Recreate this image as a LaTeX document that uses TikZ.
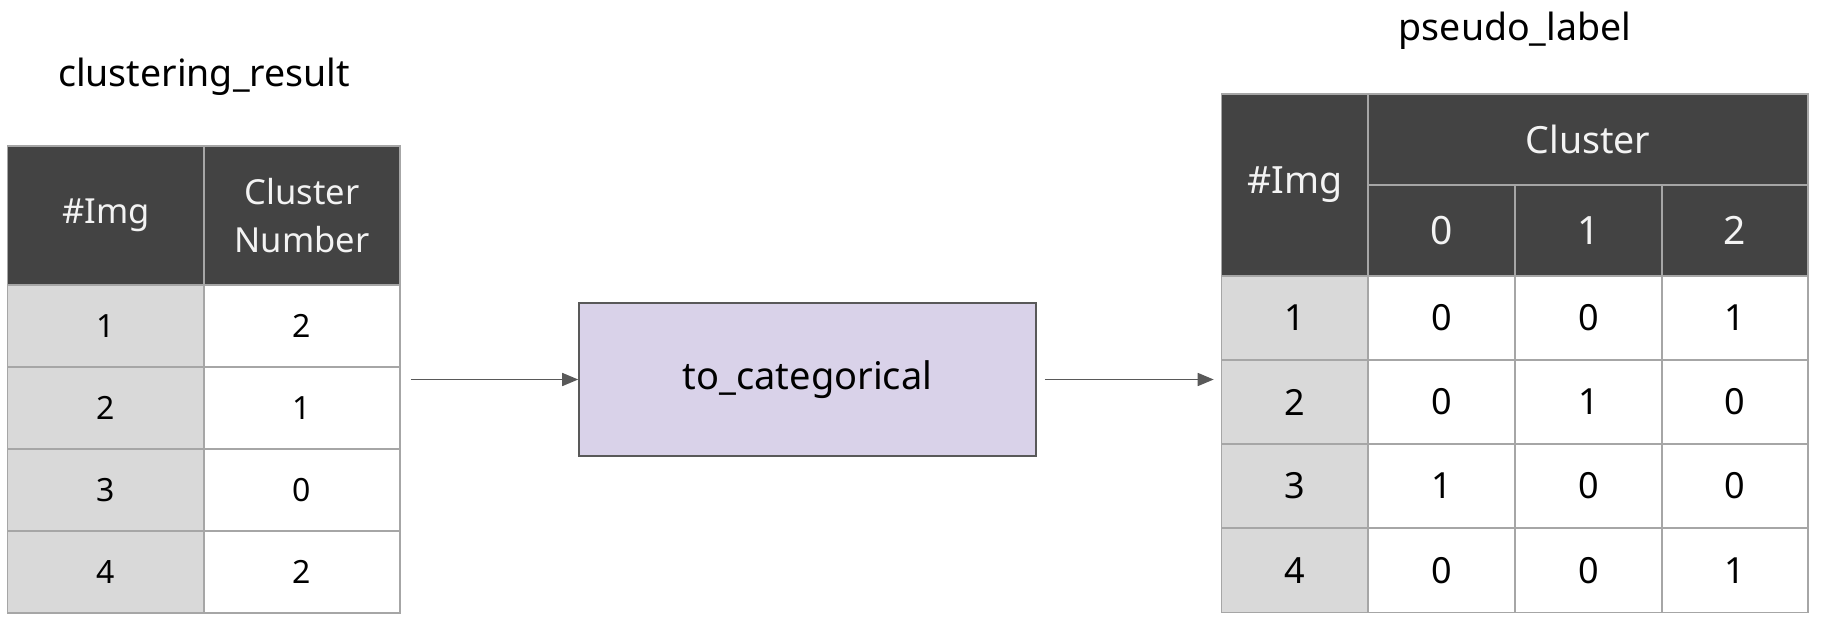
\documentclass[tikz,border=0pt]{standalone}
\usepackage{fontspec}
\setmainfont{Noto Sans}
\usetikzlibrary{arrows.meta}
\definecolor{hdr}{HTML}{434343}
\definecolor{idc}{HTML}{D9D9D9}
\definecolor{grid}{HTML}{A6A6A6}
\definecolor{boxfill}{HTML}{D9D2E9}
\definecolor{boxline}{HTML}{595959}
\definecolor{hdrtext}{HTML}{F3F3F3}
\newcommand\tcell[7]{%
  \pgfmathsetmacro\cw{#4-#2}\pgfmathsetmacro\ch{#5-#3}%
  \node[cellbase,#6,minimum width=\cw pt,minimum height=\ch pt] (#1) at ({(#2+#4)/2},{(#3+#5)/2}) {#7};}
\begin{document}
\begin{tikzpicture}[x=1pt,y=-1pt,
  cellbase/.style={draw=grid,line width=1.6pt,inner sep=0pt,align=center},
  hcell/.style={fill=hdr,text=hdrtext,font=\fontsize{34.5}{48}\selectfont},
  hcellb/.style={fill=hdr,text=hdrtext,font=\fontsize{37.5}{44}\selectfont},
  hcelld/.style={fill=hdr,text=hdrtext,font=\fontsize{39}{44}\selectfont},
  idcell/.style={fill=idc,text=black,font=\fontsize{32}{38}\selectfont},
  valcell/.style={fill=white,text=black,font=\fontsize{32}{38}\selectfont},
  idcellb/.style={fill=idc,text=black,font=\fontsize{36}{42}\selectfont},
  valcellb/.style={fill=white,text=black,font=\fontsize{36}{42}\selectfont},
  title/.style={font=\fontsize{37.5}{44}\selectfont,text=black},
  procbox/.style={draw=boxline,fill=boxfill,line width=1.6pt,font=\fontsize{38}{44}\selectfont,text=black},
  flow/.style={draw=boxline,line width=1.6pt,-{Triangle[length=16pt,width=13pt]}}
]
\useasboundingbox (0,0) rectangle (1826,632);
% left table
\tcell{lh1}{7.5}{146}{204}{285}{hcell}{\#Img}
\tcell{lh2}{204}{146}{400}{285}{hcell}{Cluster\\Number}
\tcell{la1}{7.5}{285}{204}{367}{idcell}{1}
\tcell{lb1}{204}{285}{400}{367}{valcell}{2}
\tcell{la2}{7.5}{367}{204}{449}{idcell}{2}
\tcell{lb2}{204}{367}{400}{449}{valcell}{1}
\tcell{la3}{7.5}{449}{204}{531}{idcell}{3}
\tcell{lb3}{204}{449}{400}{531}{valcell}{0}
\tcell{la4}{7.5}{531}{204}{613}{idcell}{4}
\tcell{lb4}{204}{531}{400}{613}{valcell}{2}
\node[title] (ltitle) at (204,77) {clustering\_result};
% middle box
\node[procbox,minimum width=457pt,minimum height=153pt] (proc) at (807.5,379.5) {to\_categorical};
% right table
\tcell{rh1}{1221.5}{94}{1368}{276}{hcellb}{\#Img}
\tcell{rh2}{1368}{94}{1808}{185}{hcellb}{Cluster}
\tcell{rc0}{1368}{185}{1515}{276}{hcelld}{0}
\tcell{rc1}{1515}{185}{1662}{276}{hcelld}{1}
\tcell{rc2}{1662}{185}{1808}{276}{hcelld}{2}
\tcell{ra1}{1221.5}{276}{1368}{360}{idcellb}{1}
\tcell{rb1}{1368}{276}{1515}{360}{valcellb}{0}
\tcell{rd1}{1515}{276}{1662}{360}{valcellb}{0}
\tcell{re1}{1662}{276}{1808}{360}{valcellb}{1}
\tcell{ra2}{1221.5}{360}{1368}{444}{idcellb}{2}
\tcell{rb2}{1368}{360}{1515}{444}{valcellb}{0}
\tcell{rd2}{1515}{360}{1662}{444}{valcellb}{1}
\tcell{re2}{1662}{360}{1808}{444}{valcellb}{0}
\tcell{ra3}{1221.5}{444}{1368}{528}{idcellb}{3}
\tcell{rb3}{1368}{444}{1515}{528}{valcellb}{1}
\tcell{rd3}{1515}{444}{1662}{528}{valcellb}{0}
\tcell{re3}{1662}{444}{1808}{528}{valcellb}{0}
\tcell{ra4}{1221.5}{528}{1368}{612.5}{idcellb}{4}
\tcell{rb4}{1368}{528}{1515}{612.5}{valcellb}{0}
\tcell{rd4}{1515}{528}{1662}{612.5}{valcellb}{0}
\tcell{re4}{1662}{528}{1808}{612.5}{valcellb}{1}
\node[title] (rtitle) at (1515,31) {pseudo\_label};
% connectors
\draw[flow,shorten <=10pt] (proc.west -| lb2.east) -- (proc.west);
\draw[flow,shorten <=8pt,shorten >=7pt] (proc.east) -- (proc.east -| ra2.west);
\end{tikzpicture}
\end{document}
